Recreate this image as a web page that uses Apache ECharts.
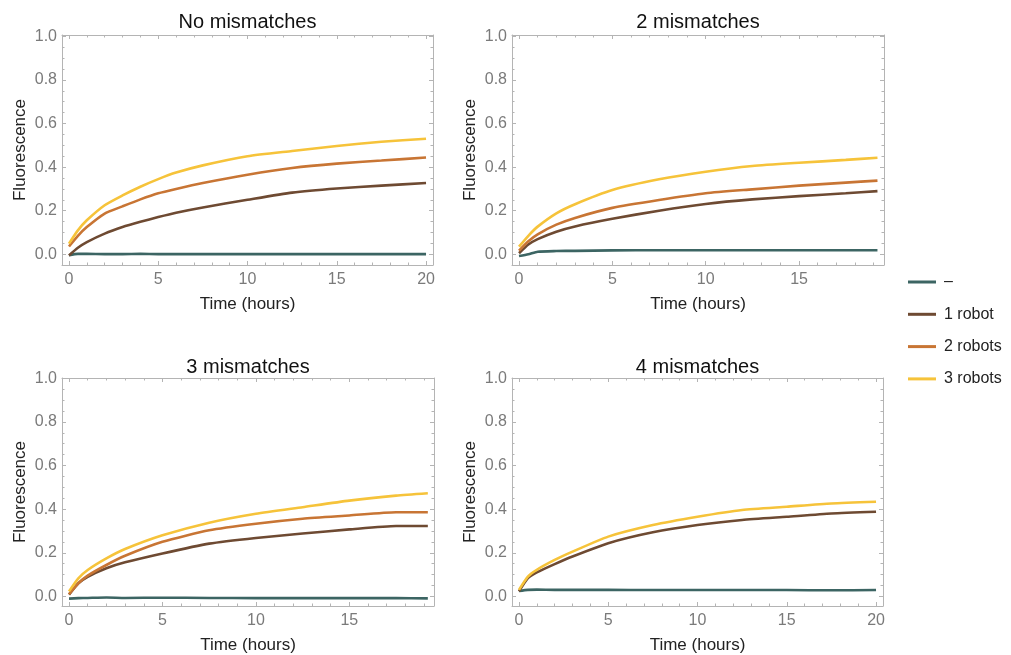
<!DOCTYPE html>
<html>
<head>
<meta charset="utf-8">
<script src="https://cdn.jsdelivr.net/npm/echarts@6/dist/echarts.min.js"></script>
<style>
  html, body { margin: 0; padding: 0; background: #ffffff; }
  #chart { width: 1011px; height: 655px; }
</style>
</head>
<body>
<div id="chart"></div>
<script>
// ---- Data -------------------------------------------------------------
const seriesNames = ['–', '1 robot', '2 robots', '3 robots'];
const panelTitles = ['No mismatches', '2 mismatches', '3 mismatches', '4 mismatches'];

// Tick positions
const xMajorTicks = [0, 5, 10, 15, 20];
const xMinorTicks = [1, 2, 3, 4, 6, 7, 8, 9, 11, 12, 13, 14, 16, 17, 18, 19];
const yMajorTicks = [0, 0.2, 0.4, 0.6, 0.8, 1.0];
const yMinorTicks = [0.05, 0.1, 0.15, 0.25, 0.3, 0.35, 0.45, 0.5, 0.55, 0.65, 0.7, 0.75, 0.85, 0.9, 0.95];

// No mismatches
const hoursNoMis    = [0, 0.5, 1, 2, 3, 4, 5, 6, 7.5, 10, 12.5, 15, 17.5, 20];
const noMisNone     = [-0.004, 0.002, 0.002, 0.001, 0.001, 0.002, 0.001, 0.001, 0.001, 0.001, 0.001, 0.001, 0.001, 0.001];
const noMis1Robot   = [-0.005, 0.030, 0.056, 0.095, 0.125, 0.149, 0.171, 0.191, 0.215, 0.250, 0.283, 0.302, 0.315, 0.327];
const noMis2Robots  = [0.036, 0.085, 0.125, 0.187, 0.220, 0.252, 0.280, 0.300, 0.327, 0.365, 0.396, 0.416, 0.430, 0.444];
const noMis3Robots  = [0.049, 0.110, 0.156, 0.225, 0.270, 0.310, 0.345, 0.375, 0.408, 0.450, 0.474, 0.497, 0.516, 0.530];

// 2 mismatches
const hoursTwoMis   = [0, 0.5, 1, 2, 3, 5, 7.5, 10, 12.5, 15, 17.5, 19.2];
const twoMisNone    = [-0.008, 0.000, 0.012, 0.015, 0.016, 0.018, 0.019, 0.019, 0.019, 0.019, 0.019, 0.019];
const twoMis1Robot  = [0.005, 0.045, 0.070, 0.104, 0.128, 0.163, 0.200, 0.231, 0.252, 0.267, 0.280, 0.290];
const twoMis2Robots = [0.017, 0.060, 0.092, 0.136, 0.167, 0.213, 0.249, 0.280, 0.298, 0.315, 0.329, 0.338];
const twoMis3Robots = [0.035, 0.085, 0.127, 0.188, 0.230, 0.295, 0.344, 0.379, 0.405, 0.420, 0.433, 0.443];

// 3 mismatches
const hoursThreeMis   = [0, 0.5, 1, 2, 3, 5, 7.5, 10, 12.5, 15, 17.5, 19.2];
const threeMisNone    = [-0.010, -0.008, -0.007, -0.005, -0.007, -0.006, -0.007, -0.008, -0.008, -0.008, -0.008, -0.009];
const threeMis1Robot  = [0.008, 0.060, 0.090, 0.129, 0.156, 0.197, 0.242, 0.268, 0.288, 0.307, 0.323, 0.323];
const threeMis2Robots = [0.010, 0.060, 0.095, 0.144, 0.186, 0.250, 0.303, 0.333, 0.356, 0.371, 0.386, 0.386];
const threeMis3Robots = [0.023, 0.083, 0.121, 0.174, 0.217, 0.280, 0.338, 0.379, 0.409, 0.439, 0.462, 0.473];

// 4 mismatches (no "2 robots" run)
const hoursFourMis   = [0, 0.5, 1, 2, 3, 5, 7.5, 10, 12.5, 15, 17.5, 20];
const fourMisNone    = [0.025, 0.030, 0.031, 0.030, 0.030, 0.030, 0.029, 0.029, 0.029, 0.029, 0.028, 0.029];
const fourMis1Robot  = [0.023, 0.084, 0.110, 0.148, 0.183, 0.244, 0.294, 0.327, 0.350, 0.365, 0.380, 0.388];
const fourMis3Robots = [0.030, 0.091, 0.122, 0.167, 0.205, 0.274, 0.327, 0.365, 0.396, 0.411, 0.426, 0.434];

// ---- Styling & layout -------------------------------------------------
const COLORS = ['#3c6563', '#6e4a32', '#c87534', '#f6c33a'];
const FONT = '"Liberation Sans", Arial, sans-serif';
const FRAME = '#b4b4b4';
const TICK_TEXT = '#7a7a7a';
const LABEL_TEXT = '#222222';

const panels = [
  { hours: hoursNoMis,    values: [noMisNone, noMis1Robot, noMis2Robots, noMis3Robots] },
  { hours: hoursTwoMis,   values: [twoMisNone, twoMis1Robot, twoMis2Robots, twoMis3Robots] },
  { hours: hoursThreeMis, values: [threeMisNone, threeMis1Robot, threeMis2Robots, threeMis3Robots] },
  { hours: hoursFourMis,  values: [fourMisNone, fourMis1Robot, null, fourMis3Robots] }
];

const frames = [
  { left: 62,  top: 35,  width: 371, height: 230, titleTop: 12.5, x: [-0.39, 20.39],  y: [-0.049, 1.006] },
  { left: 512, top: 35,  width: 372, height: 230, titleTop: 12.5, x: [-0.375, 19.55], y: [-0.049, 1.006] },
  { left: 62,  top: 378, width: 372, height: 230, titleTop: 357.5, x: [-0.375, 19.53], y: [-0.044, 1.001] },
  { left: 512, top: 378, width: 371, height: 230, titleTop: 357.5, x: [-0.39, 20.39],  y: [-0.044, 1.001] }
];

const inRange = (v, r) => v >= r[0] && v <= r[1];

// Four axes per side pair: labelled major, mirrored major, and minor ticks on both sides
function frameAxes(kind, g, f) {
  const range = kind === 'x' ? f.x : f.y;
  const major = (kind === 'x' ? xMajorTicks : yMajorTicks).filter(v => inRange(v, range));
  const minor = (kind === 'x' ? xMinorTicks : yMinorTicks).filter(v => inRange(v, range));
  const near = kind === 'x' ? 'bottom' : 'left';
  const far = kind === 'x' ? 'top' : 'right';
  const base = {
    type: 'value', gridIndex: g, min: range[0], max: range[1],
    splitLine: { show: false }, silent: true,
    axisLine: { show: true, onZero: false, lineStyle: { color: FRAME, width: 1 } }
  };
  const tick = (vals, len) => ({ show: true, inside: true, length: len, customValues: vals, lineStyle: { color: FRAME, width: 1 } });
  const noLine = { show: false, onZero: false };
  const main = Object.assign({}, base, {
    position: near,
    name: kind === 'x' ? 'Time (hours)' : 'Fluorescence',
    nameLocation: 'middle',
    nameGap: kind === 'x' ? 31 : 33,
    nameTextStyle: { color: LABEL_TEXT, fontSize: 17, fontFamily: FONT },
    axisTick: tick(major, 4),
    axisLabel: {
      show: true, customValues: major, margin: kind === 'x' ? 7 : 5,
      color: TICK_TEXT, fontSize: 16, fontFamily: FONT,
      formatter: v => kind === 'x' ? String(v) : v.toFixed(1)
    }
  });
  return [
    main,
    Object.assign({}, base, { position: far, axisTick: tick(major, 4), axisLabel: { show: false } }),
    Object.assign({}, base, { position: near, axisLine: noLine, axisTick: tick(minor, 2.5), axisLabel: { show: false } }),
    Object.assign({}, base, { position: far, axisLine: noLine, axisTick: tick(minor, 2.5), axisLabel: { show: false } })
  ];
}

const grid = [], xAxis = [], yAxis = [], title = [], series = [];
frames.forEach((f, g) => {
  grid.push({ left: f.left, top: f.top, width: f.width, height: f.height, containLabel: false });
  xAxis.push(...frameAxes('x', g, f));
  yAxis.push(...frameAxes('y', g, f));
  title.push({
    text: panelTitles[g], left: f.left + f.width / 2, top: f.titleTop, padding: 0,
    textAlign: 'center',
    textStyle: { color: '#111111', fontSize: 20, fontWeight: 'normal', fontFamily: FONT }
  });
  const p = panels[g];
  p.values.forEach((vals, s) => {
    if (!vals) return;
    series.push({
      type: 'line', name: seriesNames[s],
      xAxisIndex: g * 4, yAxisIndex: g * 4,
      data: p.hours.map((h, i) => [h, vals[i]]),
      smooth: 0.2,
      symbol: 'none', showSymbol: false,
      lineStyle: { color: COLORS[s], width: 2.6 },
      itemStyle: { color: COLORS[s] },
      silent: true, animation: false
    });
  });
});

const option = {
  backgroundColor: '#ffffff',
  animation: false,
  title,
  grid, xAxis, yAxis, series,
  legend: {
    data: seriesNames,
    orient: 'vertical',
    left: 908, top: 274, padding: 0,
    icon: 'rect',
    itemWidth: 28, itemHeight: 3, itemGap: 16.3,
    selectedMode: false,
    textStyle: { color: LABEL_TEXT, fontSize: 16, fontFamily: FONT, padding: [0, 0, 0, 3] }
  }
};

const chart = echarts.init(document.getElementById('chart'));
chart.setOption(option);
</script>
</body>
</html>
